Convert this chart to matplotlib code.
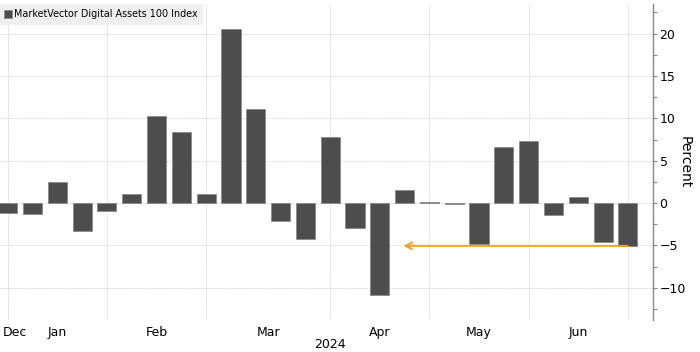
import matplotlib.pyplot as plt

# weekly returns, Jan 5 .. Jun 28 2024 (percent)
weeks = list(range(26))
returns = [-1.15, -1.25, 2.5, -3.25, -0.9, 1.05, 10.3, 8.4, 1.05, 20.5,
           11.05, -2.1, -4.2, 7.8, -2.9, -10.8, 1.5, 0.15, -0.1, -4.8,
           6.6, 7.3, -1.4, 0.7, -4.6, -5.05]
month_starts = [0, 4, 8, 13, 17, 21, 25]
month_labels = ['Dec', 'Jan', 'Feb', 'Mar', 'Apr', 'May', 'Jun']
month_label_pos = [0.3, 2, 6, 10.5, 15, 19, 23]
arrow_from = (25, -5.05)
arrow_to = (15.95, -5.05)

plt.rcParams['font.family'] = 'DejaVu Sans'
fig = plt.figure(figsize=(7, 3.52), dpi=100)
ax = fig.add_axes([0.0, 0.0909, 0.9324, 0.8977])

ax.bar(weeks, returns, width=0.77, color='#4d4d4d', edgecolor='#8a8a8a',
       linewidth=0.6, label='MarketVector Digital Assets 100 Index', zorder=3)

ax.set_xlim(-0.31, 26.0)
ax.set_ylim(-13.8, 23.5)

# gridlines
for y in [-10, -5, 0, 5, 10, 15, 20]:
    ax.axhline(y, color='#c8c8c8', lw=0.6, ls=(0, (1, 1)), zorder=1)
for x in month_starts:
    ax.axvline(x, color='#c8c8c8', lw=0.6, ls=(0, (1, 1)), zorder=1)

# y axis on the right
ax.yaxis.tick_right()
ax.set_yticks([-10, -5, 0, 5, 10, 15, 20])
ax.set_yticks([-12.5, -7.5, -2.5, 2.5, 7.5, 12.5, 17.5, 22.5], minor=True)
ax.tick_params(axis='y', which='both', direction='out', length=3, width=0.8,
               color='#888888', labelsize=9, pad=2)
fig.text(685 / 700, 0.54, 'Percent', rotation=270, ha='center', va='center',
         fontsize=10)

for side in ['top', 'left', 'bottom']:
    ax.spines[side].set_visible(False)
ax.spines['right'].set_color('#888888')
ax.spines['right'].set_linewidth(1.0)

ax.set_xticks(month_label_pos, month_labels)
ax.tick_params(axis='x', length=0, labelsize=9, pad=4)
fig.text(330 / 700, 1 - 344 / 352, '2024', ha='center', va='center', fontsize=9)

ax.annotate('', xy=arrow_to, xytext=arrow_from,
            arrowprops=dict(arrowstyle='->', color='#f5a31f', lw=1.4,
                            shrinkA=0, shrinkB=0, mutation_scale=12),
            zorder=4)

leg = ax.legend(loc='upper left', bbox_to_anchor=(-0.002, 1.0), fontsize=6.9,
                frameon=True, fancybox=False, handlelength=0.8, handleheight=0.8,
                handletextpad=0.25, borderpad=0.55, borderaxespad=0.0)
leg.get_frame().set_facecolor('#efefef')
leg.get_frame().set_edgecolor('none')
leg.get_frame().set_alpha(1)

fig.savefig('out.png', dpi=100)
